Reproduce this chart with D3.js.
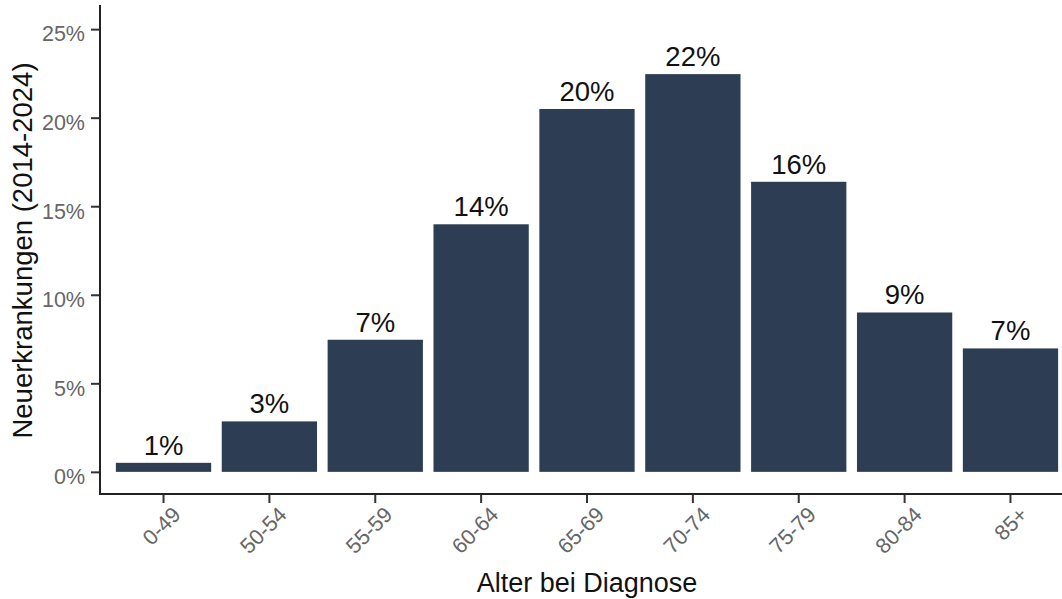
<!DOCTYPE html>
<html>
<head>
<meta charset="utf-8">
<script src="https://cdn.jsdelivr.net/npm/d3@7"></script>
<style>
  html, body { margin: 0; padding: 0; background: #ffffff; }
  svg { display: block; font-family: "Liberation Sans", Arial, sans-serif; }
</style>
</head>
<body>
<svg id="chart" width="1062" height="599"></svg>
<script>
// Age groups at diagnosis and share of new cases (percent)
const ageGroups = ["0-49", "50-54", "55-59", "60-64", "65-69", "70-74", "75-79", "80-84", "85+"];
const sharePct = [0.51, 2.85, 7.46, 13.98, 20.49, 22.46, 16.38, 9.0, 6.97];
const yTicks = [0, 5, 10, 15, 20, 25];
const xTitle = "Alter bei Diagnose";
const yTitle = "Neuerkrankungen (2014-2024)";

const svg = d3.select("#chart");
const panel = { left: 100, right: 1074, top: 7, bottom: 494 };

const x = d3.scaleBand()
  .domain(ageGroups)
  .range([panel.left, panel.right])
  .paddingInner(0.1)
  .paddingOuter(0.15);

const y = d3.scaleLinear()
  .domain([-1.25, 26.25])
  .range([panel.bottom, panel.top]);

const barColor = "#2d3e54";
const pctFmt = d3.format(".0f");

// Bars
svg.append("g")
  .selectAll("rect")
  .data(ageGroups.map((g, i) => ({ g, v: sharePct[i] })))
  .join("rect")
  .attr("x", d => x(d.g))
  .attr("width", x.bandwidth())
  .attr("y", d => y(d.v))
  .attr("height", d => y(0) - y(d.v))
  .attr("fill", barColor);

// Value labels above bars
svg.append("g")
  .selectAll("text")
  .data(ageGroups.map((g, i) => ({ g, v: sharePct[i] })))
  .join("text")
  .attr("x", d => x(d.g) + x.bandwidth() / 2)
  .attr("y", d => y(d.v) - 8)
  .attr("text-anchor", "middle")
  .attr("font-size", "27.5px")
  .attr("fill", "#111111")
  .text(d => pctFmt(d.v) + "%");

// Y axis
const yAxis = d3.axisLeft(y)
  .tickValues(yTicks)
  .tickSize(9)
  .tickPadding(6)
  .tickFormat(d => d + "%");

const gy = svg.append("g")
  .attr("transform", `translate(${panel.left},0)`)
  .call(yAxis);
gy.select(".domain").remove();
gy.selectAll(".tick line").attr("stroke", "#333333").attr("stroke-width", 2);
gy.selectAll(".tick text")
  .attr("font-size", "21.5px")
  .attr("fill", "#666666")
  .attr("dy", "0.55em")
  .attr("font-family", "Liberation Sans, Arial, sans-serif");

// X axis
const xAxis = d3.axisBottom(x).tickSize(9).tickSizeOuter(0);
const gx = svg.append("g")
  .attr("transform", `translate(0,${panel.bottom})`)
  .call(xAxis);
gx.select(".domain").remove();
gx.selectAll(".tick line").attr("stroke", "#333333").attr("stroke-width", 2);
gx.selectAll(".tick text")
  .attr("font-size", "21.5px")
  .attr("fill", "#666666")
  .attr("font-family", "Liberation Sans, Arial, sans-serif")
  .attr("text-anchor", "end")
  .attr("dy", null)
  .attr("y", null)
  .attr("transform", "translate(18.5,22) rotate(-45)");

// Axis lines
svg.append("line")
  .attr("x1", panel.left).attr("x2", panel.left)
  .attr("y1", panel.top - 2).attr("y2", panel.bottom + 1)
  .attr("stroke", "#222222").attr("stroke-width", 2);
svg.append("line")
  .attr("x1", panel.left - 1).attr("x2", 1062)
  .attr("y1", panel.bottom).attr("y2", panel.bottom)
  .attr("stroke", "#222222").attr("stroke-width", 2);

// Axis titles
svg.append("text")
  .attr("x", (panel.left + panel.right) / 2)
  .attr("y", 591.5)
  .attr("text-anchor", "middle")
  .attr("font-size", "27px")
  .attr("fill", "#111111")
  .text(xTitle);

svg.append("text")
  .attr("transform", `translate(32,${(panel.top + panel.bottom) / 2}) rotate(-90)`)
  .attr("text-anchor", "middle")
  .attr("font-size", "27.5px")
  .attr("fill", "#111111")
  .text(yTitle);
</script>
</body>
</html>
